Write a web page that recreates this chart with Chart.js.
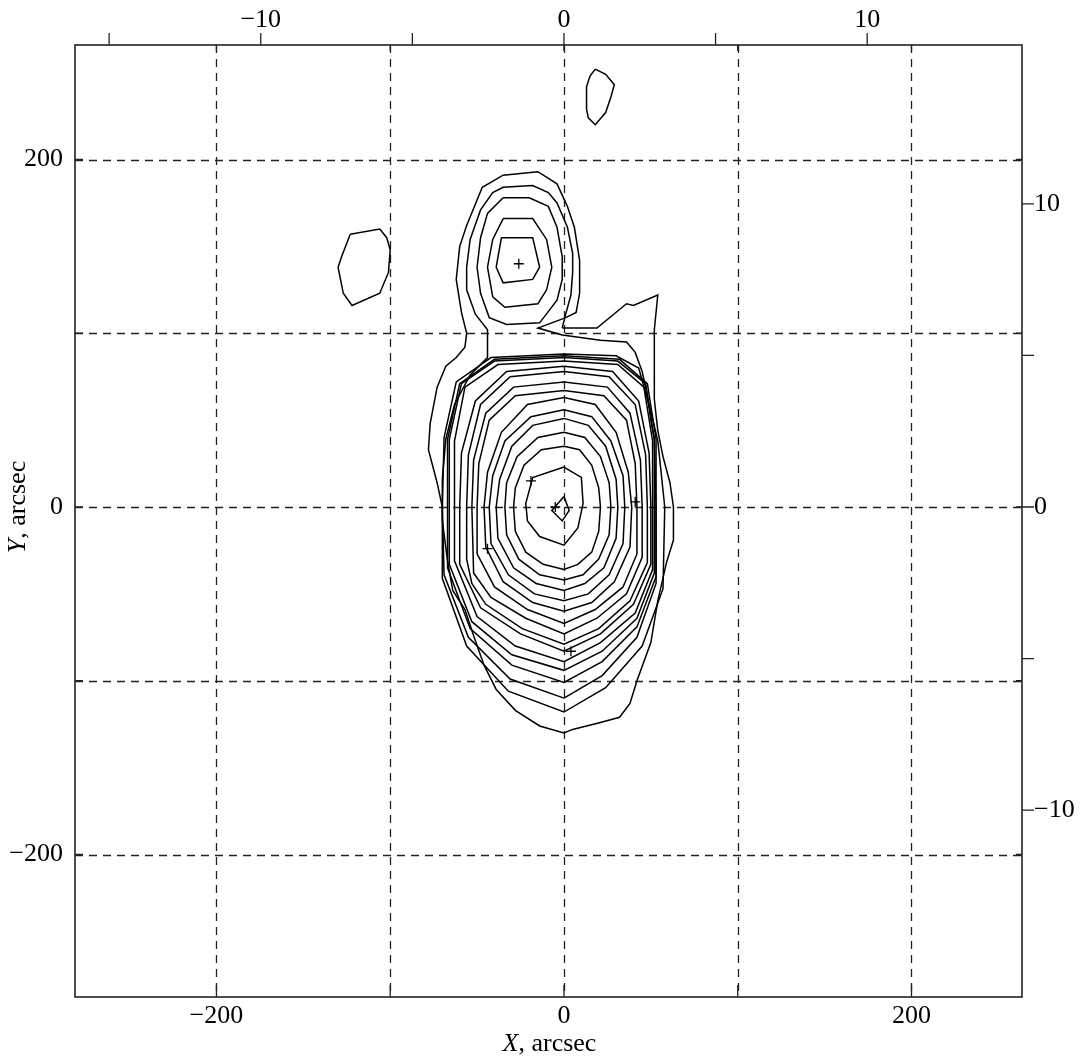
<!DOCTYPE html>
<html>
<head>
<meta charset="utf-8">
<script src="https://cdn.jsdelivr.net/npm/chart.js@4.4.1/dist/chart.umd.min.js"></script>
<style>
  html, body { margin: 0; padding: 0; background: #fff; }
  #wrap { width: 1086px; height: 1059px; position: relative; }
</style>
</head>
<body>
<div id="wrap"><canvas id="contourChart"></canvas></div>
<script>
// axis ranges (arcsec) and secondary axis units
const xRange = [-281.4, 263.6];
const yRange = [-282.0, 265.9];
const arcsecPerUnit = 17.45;

const gridValues = [-200, -100, 0, 100, 200];
const mainLabels = [-200, 0, 200];
const topTicks = [-15, -10, -5, 0, 5, 10];
const rightTicks = [-10, -5, 0, 5, 10];
const unitLabels = [-10, 0, 10];

// contour lines, [X, Y] in arcsec
const diamond = [[0,6],[3,-2],[-1,-8],[-7,-2]];
const ring01 = [[0,23],[10,17],[11,2],[8,-12],[0,-22],[-14,-17],[-21,-8],[-22,2],[-18,17]];
const ring02 = [[0,35],[9,33],[16,24],[20,11],[21,0],[20,-14],[16,-26],[8,-33],[0,-36],[-12,-33],[-22,-26],[-28,-14],[-29,0],[-28,11],[-23,24],[-13,33]];
const ring03 = [[0,43],[12,40],[21,29],[26,14],[27,0],[26,-16],[20,-30],[11,-39],[0,-42],[-14,-39],[-26,-30],[-33,-16],[-34,0],[-33,14],[-27,29],[-15,40]];
const ring04 = [[0,51],[14,47],[24,35],[30,16],[31,0],[30,-18],[23,-35],[12,-44],[0,-48],[-16,-44],[-29,-35],[-38,-18],[-39,0],[-37,16],[-30,35],[-18,47]];
const ring05 = [[0,56],[16,52],[27,38],[34,18],[35,0],[34,-21],[26,-39],[14,-50],[0,-54],[-17,-50],[-32,-39],[-42,-21],[-43,0],[-41,18],[-34,38],[-19,52]];
const ring06 = [[0,63],[18,59],[30,43],[37,20],[39,0],[38,-23],[29,-43],[16,-55],[0,-60],[-18,-55],[-35,-43],[-45,-23],[-46,0],[-44,20],[-36,43],[-21,59]];
const ring07 = [[0,67],[23,64],[36,50],[41,25],[42,0],[42,-27],[34,-46],[18,-59],[0,-67],[-21,-59],[-40,-46],[-50,-27],[-50,0],[-49,25],[-43,50],[-28,64]];
const ring08 = [[0,72],[25,69],[38,54],[44,27],[45,0],[45,-29],[36,-50],[19,-64],[0,-73],[-22,-64],[-42,-52],[-52,-38],[-53,0],[-52,27],[-45,54],[-29,69]];
const ring09 = [[0,78],[26,75],[41,59],[47,30],[48,0],[48,-32],[38,-54],[20,-70],[0,-79],[-24,-70],[-45,-56],[-53,-44],[-56,-30],[-56,0],[-55,30],[-48,59],[-31,75]];
const ring10 = [[0,81],[28,78],[43,61],[49,31],[50,0],[50,-33],[40,-56],[21,-73],[0,-83],[-25,-73],[-48,-58],[-60,-33],[-60,0],[-59,31],[-51,61],[-33,78]];
const ring11 = [[0,84],[31,82],[46,69],[51,38],[51,0],[51,-36],[41,-61],[21,-78],[0,-89],[-28,-80],[-50,-63],[-63,-31],[-63,0],[-63,38],[-57,69],[-38,82]];
const ring12 = [[0,86],[31,84],[47,71],[52,39],[52,0],[52,-38],[42,-64],[22,-83],[0,-94],[-30,-85],[-53,-66],[-66,-33],[-66,0],[-66,39],[-59,71],[-40,84]];
const ring13 = [[0,87],[32,85],[48,71],[53,39],[53,0],[53,-40],[42,-69],[22,-89],[0,-101],[-30,-91],[-54,-70],[-67,-35],[-67,0],[-67,39],[-60,71],[-40,85]];
const ring15 = [[0,88],[30,87],[43,80],[50,55],[54,38],[58,0],[57,-47],[45,-80],[24,-104],[0,-118],[-32,-106],[-56,-80],[-70,-41],[-70,0],[-69,40],[-62,72],[-42,86]];
const contourA = [[0,-110],[-31,-99],[-55,-75],[-69,-39],[-70,0],[-73,14],[-78,33],[-77,48],[-73,69],[-68,81],[-62,86],[-57,92],[-56,100],[-59,112],[-62,131],[-60,150],[-56,162],[-47,184],[-35,191],[-15,193],[-4,186],[2,173],[6,161],[9,142],[9,123],[7,112],[1,109],[-15,103],[-1,99],[21,96],[36,95],[41,89],[45,78],[48,64],[50,50],[52,39],[53,0],[53,-44],[42,-75],[22,-97]];
const contourB = [[-1,103],[19,103],[36,117],[40,116],[54,122],[52,102],[52,62],[54,44],[57,29],[61,14],[63,0],[63,-19],[59,-32],[54,-54],[50,-78],[42,-100],[38,-113],[32,-121],[21,-124],[5,-128],[0,-130],[-14,-126],[-28,-117],[-39,-105],[-46,-91],[-51,-77],[-57,-59],[-64,-48],[-67,-31],[-70,-8],[-70,16],[-68,39],[-63,59],[-54,76],[-44,86],[-44,102],[-51,111],[-56,125],[-56,138],[-54,154],[-48,171],[-41,181],[-35,184],[-18,185],[-9,181],[-4,175],[2,161],[5,146],[5,135],[4,122],[1,111]];
const upperRing1 = [[-36,155],[-18,155],[-14,138],[-18,131],[-35,129],[-39,138]];
const upperRing2 = [[-35,166],[-18,166],[-10,154],[-7,138],[-10,125],[-15,117],[-34,115],[-41,121],[-44,138],[-41,154]];
const upperRing3 = [[-35,178],[-20,178],[-9,173],[-4,161],[-1,144],[-1,131],[-4,119],[-14,106],[-33,105],[-43,109],[-48,123],[-50,138],[-48,155],[-44,169]];
const blobWest = [[-123,157],[-106,160],[-102,155],[-100,148],[-101,135],[-106,123],[-122,116],[-127,123],[-130,138],[-128,144]];
const blobNorth = [[18,252],[24,249],[29,243],[27,236],[24,227],[18,220],[14,224],[13,229],[13,242],[15,248]];

// '+' marks
const peakMarks = [[-26,140],[-19,15],[-5,0],[41,3],[-44,-24],[4,-83]];

const contours = [diamond, ring01, ring02, ring03, ring04, ring05, ring06, ring07, ring08,
  ring09, ring10, ring11, ring12, ring13, ring15, contourA, contourB,
  upperRing1, upperRing2, upperRing3, blobWest, blobNorth];

const serif = '"Liberation Serif", "DejaVu Serif", serif';
const fontSize = 26;

function minusText(v) {
  return v < 0 ? '\u2212' + Math.abs(v) : String(v);
}

const datasets = contours.map(c => ({
  data: c.concat([c[0]]).map(p => ({ x: p[0], y: p[1] })),
  showLine: true,
  borderColor: '#000',
  borderWidth: 1.5,
  pointRadius: 0,
  fill: false,
  tension: 0
}));

datasets.push({
  data: peakMarks.map(p => ({ x: p[0], y: p[1] })),
  showLine: false,
  pointStyle: 'cross',
  pointRadius: 5,
  borderColor: '#000',
  borderWidth: 1.3
});

const framePlugin = {
  id: 'framePlugin',
  beforeDatasetsDraw(chart) {
    const { ctx, chartArea: a, scales } = chart;
    ctx.save();
    ctx.strokeStyle = '#222';
    ctx.lineWidth = 1.3;
    ctx.setLineDash([8, 6]);
    gridValues.forEach(v => {
      const px = Math.round(scales.x.getPixelForValue(v)) + 0.5;
      ctx.beginPath(); ctx.moveTo(px, a.top); ctx.lineTo(px, a.bottom); ctx.stroke();
      const py = Math.round(scales.y.getPixelForValue(v)) + 0.5;
      ctx.beginPath(); ctx.moveTo(a.left, py); ctx.lineTo(a.right, py); ctx.stroke();
    });
    ctx.restore();
  },
  afterDatasetsDraw(chart) {
    const { ctx, chartArea: a, scales } = chart;
    ctx.save();
    ctx.strokeStyle = '#222';
    ctx.lineWidth = 1.6;
    ctx.strokeRect(a.left, a.top, a.right - a.left, a.bottom - a.top);

    ctx.lineWidth = 1.3;
    ctx.beginPath();
    gridValues.forEach(v => {
      const px = scales.x.getPixelForValue(v);
      ctx.moveTo(px, a.bottom); ctx.lineTo(px, a.bottom - 12);
      ctx.moveTo(px, a.top); ctx.lineTo(px, a.top + 6);
      const py = scales.y.getPixelForValue(v);
      ctx.moveTo(a.left, py); ctx.lineTo(a.left + 8, py);
      ctx.moveTo(a.right, py); ctx.lineTo(a.right - 6, py);
    });
    topTicks.forEach(v => {
      const px = scales.x2.getPixelForValue(v);
      ctx.moveTo(px, a.top); ctx.lineTo(px, a.top - 12);
    });
    rightTicks.forEach(v => {
      const py = scales.y2.getPixelForValue(v);
      ctx.moveTo(a.right, py); ctx.lineTo(a.right + 12, py);
    });
    ctx.stroke();

    ctx.fillStyle = '#000';
    ctx.font = fontSize + 'px ' + serif;
    ctx.textBaseline = 'middle';
    ctx.textAlign = 'center';
    mainLabels.forEach(v => {
      ctx.fillText(minusText(v), scales.x.getPixelForValue(v), a.bottom + 19);
    });
    unitLabels.forEach(v => {
      ctx.fillText(minusText(v), scales.x2.getPixelForValue(v), a.top - 25);
    });
    ctx.textAlign = 'right';
    mainLabels.forEach(v => {
      ctx.fillText(minusText(v), a.left - 12, scales.y.getPixelForValue(v));
    });
    ctx.textAlign = 'left';
    unitLabels.forEach(v => {
      ctx.fillText(minusText(v), a.right + 12, scales.y2.getPixelForValue(v));
    });

    // axis titles with italic variable
    const italic = 'italic ' + fontSize + 'px ' + serif;
    const upright = fontSize + 'px ' + serif;
    function titled(letter, x, y, rot) {
      ctx.save();
      ctx.translate(x, y);
      ctx.rotate(rot);
      ctx.font = italic;
      const w1 = ctx.measureText(letter).width;
      ctx.font = upright;
      const w2 = ctx.measureText(', arcsec').width;
      const x0 = -(w1 + w2) / 2;
      ctx.textAlign = 'left';
      ctx.font = italic;
      ctx.fillText(letter, x0, 0);
      ctx.font = upright;
      ctx.fillText(', arcsec', x0 + w1, 0);
      ctx.restore();
    }
    titled('X', (a.left + a.right) / 2 + 1, a.bottom + 47, 0);
    titled('Y', 18, scales.y.getPixelForValue(0), -Math.PI / 2);
    ctx.restore();
  }
};

new Chart(document.getElementById('contourChart'), {
  type: 'scatter',
  data: { datasets: datasets },
  options: {
    responsive: true,
    maintainAspectRatio: false,
    animation: false,
    layout: { padding: { left: 75, right: 64, top: 45, bottom: 62 } },
    plugins: { legend: { display: false }, tooltip: { enabled: false } },
    scales: {
      x: { type: 'linear', display: false, min: xRange[0], max: xRange[1] },
      y: { type: 'linear', display: false, min: yRange[0], max: yRange[1] },
      x2: { type: 'linear', display: false, position: 'top',
            min: xRange[0] / arcsecPerUnit, max: xRange[1] / arcsecPerUnit },
      y2: { type: 'linear', display: false, position: 'right',
            min: yRange[0] / arcsecPerUnit, max: yRange[1] / arcsecPerUnit }
    }
  },
  plugins: [framePlugin]
});
</script>
</body>
</html>
